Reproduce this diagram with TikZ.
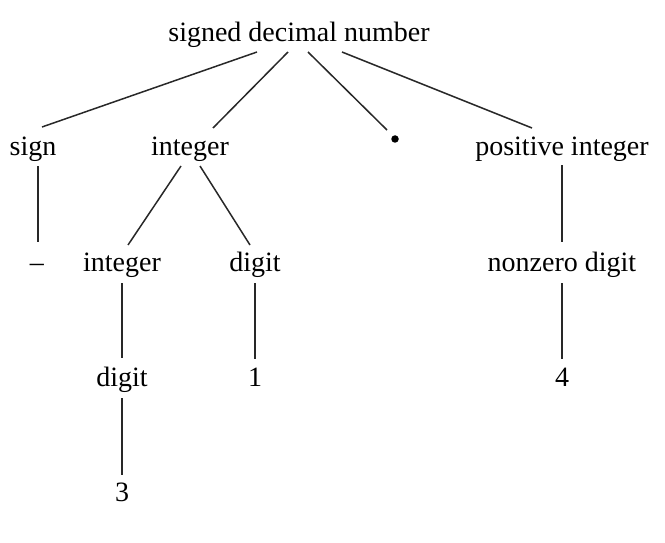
\documentclass[tikz,border=0pt]{standalone}
\usepackage{fontspec}
\setmainfont{Liberation Serif}
\begin{document}
\begin{tikzpicture}[x=1pt,y=-1pt,
  lbl/.style={anchor=base,inner sep=0pt,font=\fontsize{28}{34}\selectfont},
  edge/.style={line width=1.5pt,draw={rgb,255:red,40;green,40;blue,40}}]
\useasboundingbox (0,0) rectangle (665,543);
\node[lbl] (root) at (299,42) {signed decimal number};
\node[lbl] (sign) at (33,155) {sign};
\node[lbl] (int1) at (190,155) {integer};
\node[circle,fill=black,inner sep=0pt,minimum size=7.5pt] (dot) at (395,139) {};
\node[lbl] (pint) at (562,155) {positive integer};
\node[lbl] (minus) at (37,271) {–};
\node[lbl] (int2) at (122,271) {integer};
\node[lbl] (dig1) at (255,271) {digit};
\node[lbl] (nzd) at (562,271) {nonzero digit};
\node[lbl] (dig2) at (122,386) {digit};
\node[lbl] (one) at (255,386) {1};
\node[lbl] (four) at (562,386) {4};
\node[lbl] (three) at (122,501) {3};
\draw[edge] ([shift={(-42,10)}]root.base) -- ([shift={(9,-28)}]sign.base);
\draw[edge] ([shift={(-11,10)}]root.base) -- ([shift={(23,-27)}]int1.base);
\draw[edge] ([shift={(9,10)}]root.base) -- ([shift={(-8,-9)}]dot.center);
\draw[edge] ([shift={(43,10)}]root.base) -- ([shift={(-30,-27)}]pint.base);
\draw[edge] ([shift={(5,11)}]sign.base) -- ([shift={(1,-29)}]minus.base);
\draw[edge] ([shift={(-9,11)}]int1.base) -- ([shift={(6,-26)}]int2.base);
\draw[edge] ([shift={(10,11)}]int1.base) -- ([shift={(-5,-26)}]dig1.base);
\draw[edge] ([shift={(0,10)}]pint.base) -- ([shift={(0,-29)}]nzd.base);
\draw[edge] ([shift={(0,12)}]int2.base) -- ([shift={(0,-28)}]dig2.base);
\draw[edge] ([shift={(0,12)}]dig1.base) -- ([shift={(0,-27)}]one.base);
\draw[edge] ([shift={(0,12)}]nzd.base) -- ([shift={(0,-27)}]four.base);
\draw[edge] ([shift={(0,12)}]dig2.base) -- ([shift={(0,-26)}]three.base);
\end{tikzpicture}
\end{document}
